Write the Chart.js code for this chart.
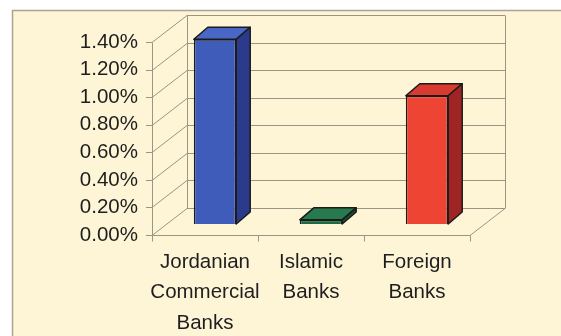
<!DOCTYPE html>
<html>
<head>
<meta charset="utf-8">
<script src="https://cdn.jsdelivr.net/npm/chart.js@4/dist/chart.umd.min.js"></script>
<style>
  html, body { margin: 0; padding: 0; background: #ffffff; }
  canvas { display: block; }
</style>
</head>
<body>
<canvas id="bankChart" width="561" height="336"></canvas>
<script>
// categories and values (percent)
const categories = [
  ['Jordanian', 'Commercial', 'Banks'],
  ['Islamic', 'Banks'],
  ['Foreign', 'Banks']
];
const ratioValues = [1.34, 0.03, 0.93];
const yTicks = [0, 0.2, 0.4, 0.6, 0.8, 1.0, 1.2, 1.4];

// face colours for each bar
const frontColors = ['#3f5cba', '#1d6a42', '#ee4433'];
const topColors = ['#4a66c6', '#267a4d', '#d83a2f'];
const sideColors = ['#2c3a8c', '#154f31', '#9e2524'];

const FONT = { family: 'Liberation Sans, Arial, sans-serif', size: 20.5 };
const DEPTH_X = 35, DEPTH_Y = -27;       // floor / wall depth
const BAR_OFF_X = 10, BAR_OFF_Y = -11;   // where bars sit in depth
const BAR_DX = 14, BAR_DY = -12;         // bar thickness
const LINE = '#9a9585';

const box3d = {
  id: 'box3d',
  beforeDraw(chart) {
    const { ctx, chartArea: a, scales } = chart;
    const y = scales.y, x = scales.x;
    ctx.save();
    // panel background with frame
    ctx.fillStyle = '#ffffff';
    ctx.fillRect(0, 0, chart.width, chart.height);
    ctx.fillStyle = '#fdf5d6';
    ctx.fillRect(12, 10, chart.width - 12, chart.height - 10);
    ctx.strokeStyle = '#aaa592';
    ctx.lineWidth = 1.5;
    ctx.beginPath();
    ctx.moveTo(12.5, chart.height);
    ctx.lineTo(12.5, 10.5);
    ctx.lineTo(chart.width, 10.5);
    ctx.stroke();

    ctx.strokeStyle = LINE;
    ctx.lineWidth = 1;
    ctx.beginPath();
    yTicks.forEach(v => {
      const py = Math.round(y.getPixelForValue(v)) + 0.5;
      // tick mark, side wall, back wall
      ctx.moveTo(a.left - 6, py);
      ctx.lineTo(a.left, py);
      ctx.lineTo(a.left + DEPTH_X, py + DEPTH_Y);
      ctx.lineTo(a.right + DEPTH_X, py + DEPTH_Y);
    });
    const top = Math.round(y.getPixelForValue(yTicks[yTicks.length - 1])) + 0.5;
    const bot = Math.round(y.getPixelForValue(0)) + 0.5;
    // front axis
    ctx.moveTo(a.left + 0.5, top);
    ctx.lineTo(a.left + 0.5, bot);
    // back wall edges
    ctx.moveTo(a.left + DEPTH_X + 0.5, top + DEPTH_Y);
    ctx.lineTo(a.left + DEPTH_X + 0.5, bot + DEPTH_Y);
    ctx.moveTo(a.right + DEPTH_X + 0.5, top + DEPTH_Y);
    ctx.lineTo(a.right + DEPTH_X + 0.5, bot + DEPTH_Y);
    // floor
    ctx.moveTo(a.left, bot);
    ctx.lineTo(a.right, bot);
    ctx.lineTo(a.right + DEPTH_X, bot + DEPTH_Y);
    // category boundary ticks
    for (let i = 0; i <= categories.length; i++) {
      const px = Math.round(x.getPixelForValue(i - 0.5)) + 0.5;
      ctx.moveTo(px, bot);
      ctx.lineTo(px, bot + 6);
    }
    ctx.stroke();
    ctx.restore();
  },
  beforeDatasetsDraw(chart) {
    chart.ctx.save();
    chart.ctx.translate(BAR_OFF_X, BAR_OFF_Y);
  },
  afterDatasetsDraw(chart) {
    const ctx = chart.ctx;
    ctx.restore();
    const meta = chart.getDatasetMeta(0);
    ctx.save();
    ctx.strokeStyle = '#1b1b1b';
    ctx.lineWidth = 1.5;
    ctx.lineJoin = 'round';
    meta.data.forEach((bar, i) => {
      const p = bar.getProps(['x', 'y', 'base', 'width'], true);
      const x0 = p.x - p.width / 2 + BAR_OFF_X;
      const x1 = p.x + p.width / 2 + BAR_OFF_X;
      const yt = p.y + BAR_OFF_Y;
      const yb = p.base + BAR_OFF_Y;
      // top face
      ctx.beginPath();
      ctx.moveTo(x0, yt);
      ctx.lineTo(x1, yt);
      ctx.lineTo(x1 + BAR_DX, yt + BAR_DY);
      ctx.lineTo(x0 + BAR_DX, yt + BAR_DY);
      ctx.closePath();
      ctx.fillStyle = topColors[i];
      ctx.fill();
      ctx.stroke();
      // side face
      ctx.beginPath();
      ctx.moveTo(x1, yt);
      ctx.lineTo(x1 + BAR_DX, yt + BAR_DY);
      ctx.lineTo(x1 + BAR_DX, yb + BAR_DY);
      ctx.lineTo(x1, yb);
      ctx.closePath();
      ctx.fillStyle = sideColors[i];
      ctx.fill();
      ctx.stroke();
    });
    ctx.restore();
  }
};

new Chart(document.getElementById('bankChart'), {
  type: 'bar',
  data: {
    labels: categories,
    datasets: [{
      data: ratioValues,
      backgroundColor: frontColors,
      borderColor: '#1b1b1b',
      borderWidth: 1.5,
      barPercentage: 0.4,
      categoryPercentage: 1,
      clip: false
    }]
  },
  options: {
    responsive: false,
    animation: false,
    layout: { padding: { left: 12, top: 42, right: 91, bottom: 0 } },
    plugins: { legend: { display: false }, tooltip: { enabled: false } },
    scales: {
      y: {
        min: 0,
        max: 1.4,
        afterFit: s => { s.width = 140; },
        afterBuildTicks: s => { s.ticks = yTicks.map(v => ({ value: v })); },
        ticks: {
          callback: v => v.toFixed(2) + '%',
          font: FONT,
          color: '#1e1e1e',
          padding: 14,
          autoSkip: false
        },
        grid: { display: false, drawTicks: false },
        border: { display: false }
      },
      x: {
        afterFit: s => { s.height = 101; },
        ticks: {
          font: { ...FONT, lineHeight: 1.48 },
          color: '#1e1e1e',
          padding: 12,
          maxRotation: 0,
          minRotation: 0,
          autoSkip: false
        },
        grid: { display: false, drawTicks: false },
        border: { display: false }
      }
    }
  },
  plugins: [box3d]
});
</script>
</body>
</html>
